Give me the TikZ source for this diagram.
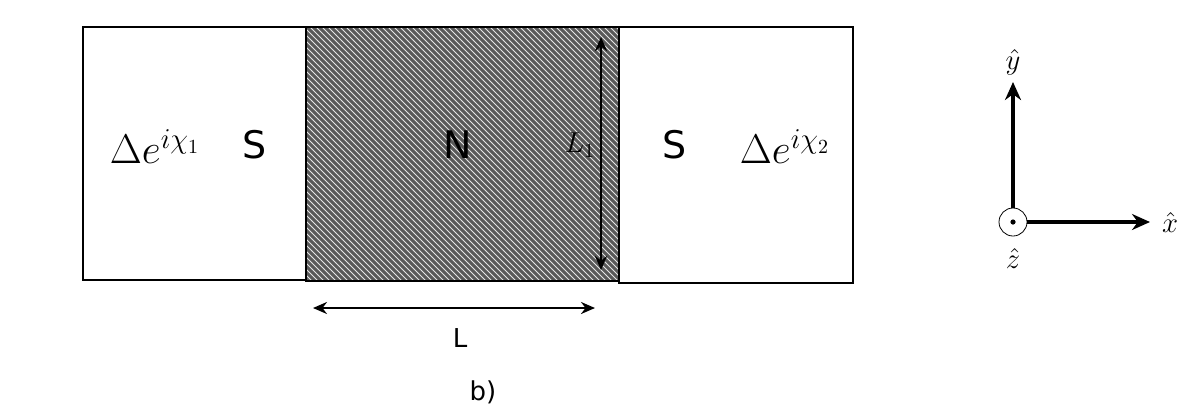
\documentclass[tikz,border=0pt]{standalone}
\usepackage{fontspec}
\setsansfont{DejaVu Sans}
\usetikzlibrary{patterns,arrows.meta}
\begin{document}
\begin{tikzpicture}[x=0.5pt,y=-0.5pt,
  box/.style={draw,line width=1.3pt},
  dim/.style={line width=1.2pt,{Stealth[length=7pt,width=6pt]}-{Stealth[length=7pt,width=6pt]}},
  ax/.style={line width=2pt,-{Stealth[length=9pt,width=8pt]}},
  big/.style={font=\fontsize{19}{22}\selectfont\sffamily},
  bigm/.style={font=\fontsize{20}{24}\selectfont}]
\useasboundingbox (0,0) rectangle (1200,419);
\draw[box] (83,27) rectangle (306,280);
\fill[gray!70!black] (306,27) rectangle (619,281);
\fill[pattern=north west lines,pattern color=white!80!gray] (306,27) rectangle (619,281);
\draw[box] (306,27) rectangle (619,281);
\draw[box] (619,27) rectangle (853,283);
\node[bigm] (d1) at (155,147) {$\Delta e^{i\chi_1}$};
\node[big] (s1) at (255,145) {S};
\node[big] (n) at (458,145) {N};
\node[font=\fontsize{14}{16}\selectfont] (l1) at (580,145) {$L_1$};
\node[big] (s2) at (675,145) {S};
\node[bigm] (d2) at (785,147) {$\Delta e^{i\chi_2}$};
\coordinate (vt) at (601,37); \coordinate (vb) at (601,270);
\draw[dim] (vt) -- (vb);
\coordinate (hl) at (313,308); \coordinate (hr) at (595,308);
\draw[dim] (hl) -- (hr);
\node[font=\fontsize{13}{15}\selectfont\sffamily] (L) at (460,338) {L};
\node[font=\fontsize{13}{15}\selectfont\sffamily] (b) at (483,392) {b)};
\node[circle,draw,minimum size=14pt,inner sep=0pt] (o) at (1013,222) {};
\fill (o.center) circle (1.3pt);
\coordinate (ye) at (1013,82); \coordinate (xe) at (1150,222);
\draw[ax] (o.north) -- (ye);
\draw[ax] (o.east) -- (xe);
\node[font=\fontsize{14}{16}\selectfont] (yl) at (1013,62) {$\hat y$};
\node[font=\fontsize{14}{16}\selectfont] (xl) at (1170,222) {$\hat x$};
\node[font=\fontsize{14}{16}\selectfont] (zl) at (1013,258) {$\hat z$};
\end{tikzpicture}
\end{document}
